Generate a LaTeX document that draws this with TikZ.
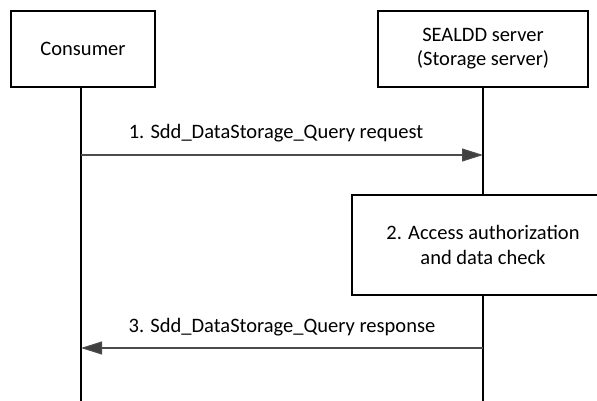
\documentclass[tikz,border=0pt]{standalone}
\usepackage{fontspec}
\setmainfont{Carlito}
\usetikzlibrary{arrows.meta}
\begin{document}
\begin{tikzpicture}[x=1pt,y=-1pt,
  box/.style={draw=black,line width=1.3pt,fill=white,align=center,inner sep=0pt,font=\fontsize{20.5}{24}\selectfont},
  life/.style={draw=black,line width=1.2pt},
  msg/.style={draw=black!70,line width=1.1pt,-{Triangle[length=21pt,width=13pt,fill=black!75]}},
  lbl/.style={font=\fontsize{20.5}{24}\selectfont,inner sep=0pt}]
\useasboundingbox (0,0) rectangle (597,401);
\begin{scope}
\clip (0,0) rectangle (597,401);
\node[box,minimum width=144pt,minimum height=76pt] (consumer) at (83,49) {Consumer};
\node[box,minimum width=210pt,minimum height=76pt] (server) at (483,49) {SEALDD server\\(Storage server)};
\coordinate (cbot) at (81,401);
\coordinate (sbot) at (483,401);
\draw[life] (consumer.south -| cbot) -- (cbot);
\draw[life] (server.south) -- (sbot);
\node[box,minimum width=262pt,minimum height=100pt,font=\fontsize{20.5}{25}\selectfont] (check) at (483,245) {2. Access authorization\\and data check};
\coordinate (c1) at (81,155);
\coordinate (s1) at (483,155);
\coordinate (c3) at (81,348);
\coordinate (s3) at (483,348);
\draw[msg] (c1) -- node[lbl,above=12pt,xshift=-6pt] {1. Sdd\_DataStorage\_Query request} (s1);
\draw[msg] (s3) -- node[lbl,above=11pt] {3. Sdd\_DataStorage\_Query response} (c3);
\end{scope}
\end{tikzpicture}
\end{document}
